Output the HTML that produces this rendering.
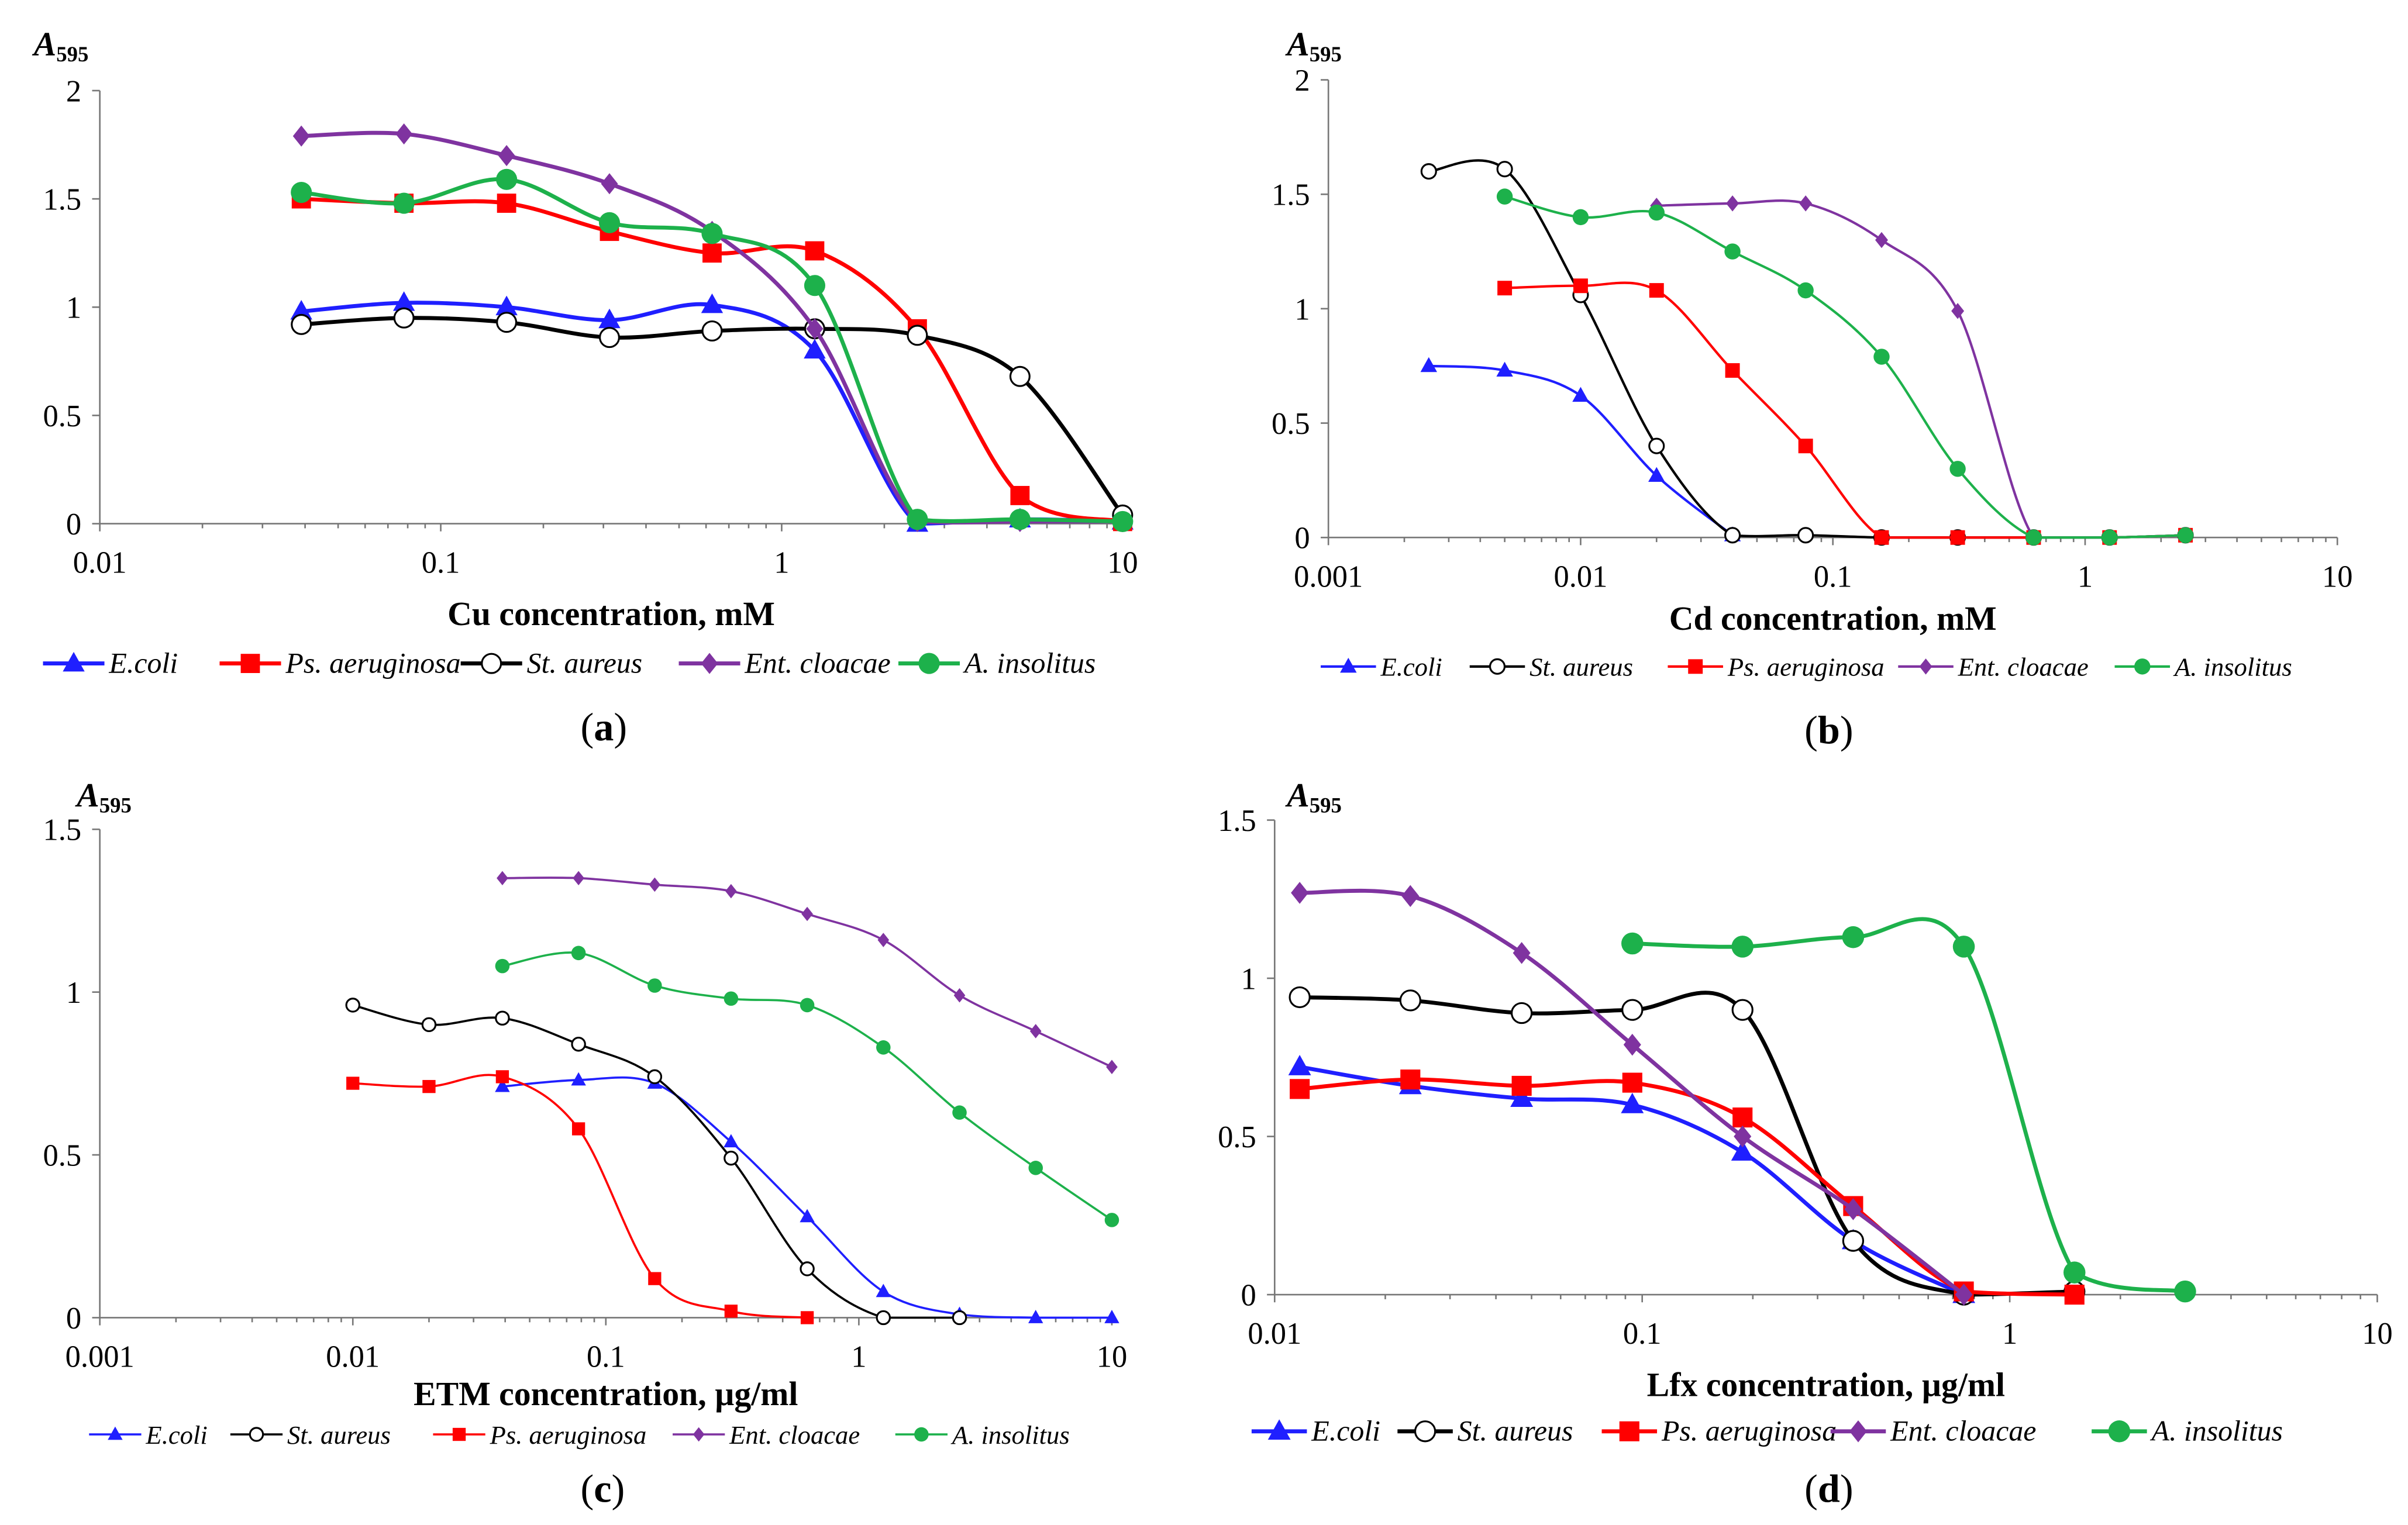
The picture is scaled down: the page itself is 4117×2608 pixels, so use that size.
<!DOCTYPE html>
<html><head><meta charset="utf-8"><style>
html,body{margin:0;padding:0;background:#fff;}
svg{display:block;font-family:"Liberation Serif",serif;}
</style></head><body>
<svg id="chart" width="4117" height="2608" viewBox="0 0 1568 993" preserveAspectRatio="none" xmlns="http://www.w3.org/2000/svg"></svg>
<script>
// ---- data ----
const xA=[0.039,0.078,0.156,0.3125,0.625,1.25,2.5,5,10];
const aEcoli=[0.98,1.02,1.0,0.94,1.01,0.8,0,0.02,0.01];
const aPs=[1.5,1.48,1.48,1.35,1.25,1.26,0.9,0.13,0.01];
const aSt=[0.92,0.95,0.93,0.86,0.89,0.9,0.87,0.68,0.04];
const aEnt=[1.79,1.8,1.7,1.57,1.35,0.9,0.01,0.01,0.01];
const aIns=[1.53,1.48,1.59,1.39,1.34,1.1,0.02,0.02,0.01];

const xB=[0.0025,0.005,0.01,0.02,0.04,0.078,0.156,0.3125,0.625,1.25,2.5];
const bEcoli=[0.75,0.73,0.62,0.27,0.01,null,null,null,null,null,null];
const bSt=[1.6,1.61,1.06,0.4,0.01,0.01,0,0,0,0,0.01];
const bPs=[null,1.09,1.1,1.08,0.73,0.4,0,0,0,0,0.01];
const bEnt=[null,null,null,1.45,1.46,1.46,1.3,0.99,0,0,0.01];
const bIns=[null,1.49,1.4,1.42,1.25,1.08,0.79,0.3,0,0,0.01];

const xC=[0.01,0.02,0.039,0.078,0.156,0.3125,0.625,1.25,2.5,5,10];
const cEcoli=[null,null,0.71,0.73,0.72,0.54,0.31,0.08,0.01,0,0];
const cSt=[0.96,0.9,0.92,0.84,0.74,0.49,0.15,0,0,null,null];
const cPs=[0.72,0.71,0.74,0.58,0.12,0.02,0,null,null,null,null];
const cEnt=[null,null,1.35,1.35,1.33,1.31,1.24,1.16,0.99,0.88,0.77];
const cIns=[null,null,1.08,1.12,1.02,0.98,0.96,0.83,0.63,0.46,0.3];

const xD=[0.0117,0.0234,0.047,0.094,0.1875,0.375,0.75,1.5,3];
const dEcoli=[0.72,0.66,0.62,0.6,0.45,0.17,0,null,null];
const dSt=[0.94,0.93,0.89,0.9,0.9,0.17,0,0.01,null];
const dPs=[0.65,0.68,0.66,0.67,0.56,0.28,0.01,0,null];
const dEnt=[1.27,1.26,1.08,0.79,0.5,0.27,0,null,null];
const dIns=[null,null,null,1.11,1.1,1.13,1.1,0.07,0.01];

const yTicksAB=["0","0.5","1","1.5","2"];
const yTicksCD=["0","0.5","1","1.5"];

const NS="http://www.w3.org/2000/svg";
const svg=document.getElementById('chart');
function el(tag,attrs,parent,text){const e=document.createElementNS(NS,tag);for(const k in attrs)e.setAttribute(k,attrs[k]);if(text!==undefined)e.textContent=text;(parent||svg).appendChild(e);return e;}

const COL={ecoli:'#1f1fff',ps:'#ff0000',st:'#000000',ent:'#7f33a0',ins:'#1db14b'};
const NAMES={ecoli:'E.coli',ps:'Ps. aeruginosa',st:'St. aureus',ent:'Ent. cloacae',ins:'A. insolitus'};

const panels=[
 {id:'a',x0:65,x1:731,d0:-2,d1:1,y0:341,yTop:59,yMax:2,ticks:yTicksAB,xt:['0.01','0.1','1','10'],xs:xA,
  series:[['ecoli',aEcoli],['ps',aPs],['st',aSt],['ent',aEnt],['ins',aIns]],order:['ecoli','ps','st','ent','ins'],
  lw:2.6,ms:1.25,title:'Cu concentration, mM',titleY:407,legY:432,legX:[28,143,300,442,585],legLen:40,fs:19,label:'(a)',labX:378,labY:482,a595:[22,36]},
 {id:'b',x0:865,x1:1522,d0:-3,d1:1,y0:350,yTop:52,yMax:2,ticks:yTicksAB,xt:['0.001','0.01','0.1','1','10'],xs:xB,
  series:[['ecoli',bEcoli],['st',bSt],['ps',bPs],['ent',bEnt],['ins',bIns]],order:['ecoli','st','ps','ent','ins'],
  lw:1.6,ms:0.95,title:'Cd concentration, mM',titleY:410,legY:434,legX:[860,957,1086,1236,1377],legLen:36,fs:17,label:'(b)',labX:1175,labY:484,a595:[838,36]},
 {id:'c',x0:65,x1:724,d0:-3,d1:1,y0:858,yTop:540,yMax:1.5,ticks:yTicksCD,xt:['0.001','0.01','0.1','1','10'],xs:xC,
  series:[['ecoli',cEcoli],['st',cSt],['ps',cPs],['ent',cEnt],['ins',cIns]],order:['ecoli','st','ps','ent','ins'],
  lw:1.4,ms:0.85,title:'ETM concentration, µg/ml',titleY:915,legY:934,legX:[58,150,282,438,583],legLen:34,fs:17,label:'(c)',labX:378,labY:978,a595:[50,525]},
 {id:'d',x0:830,x1:1548,d0:-2,d1:1,y0:843,yTop:534,yMax:1.5,ticks:yTicksCD,xt:['0.01','0.1','1','10'],xs:xD,
  series:[['ecoli',dEcoli],['st',dSt],['ps',dPs],['ent',dEnt],['ins',dIns]],order:['ecoli','st','ps','ent','ins'],
  lw:2.6,ms:1.3,title:'Lfx concentration, µg/ml',titleY:909,legY:932,legX:[815,910,1043,1192,1362],legLen:36,fs:19,label:'(d)',labX:1175,labY:978,a595:[838,525]}
];

function marker(g,kind,x,y,s){
 const c=COL[kind];let m;
 if(kind==='ecoli'){const r=6*s;m=el('polygon',{points:`${x},${y-r} ${x+r*0.95},${y+r*0.7} ${x-r*0.95},${y+r*0.7}`,fill:c},g);}
 else if(kind==='ps'){const r=5*s;m=el('rect',{x:x-r,y:y-r,width:2*r,height:2*r,fill:c},g);}
 else if(kind==='st'){m=el('circle',{cx:x,cy:y,r:5*s,fill:'#fff',stroke:'#000','stroke-width':1.2},g);}
 else if(kind==='ent'){const r=5.5*s;m=el('polygon',{points:`${x},${y-r} ${x+r*0.8},${y} ${x},${y+r} ${x-r*0.8},${y}`,fill:c},g);}
 else {m=el('circle',{cx:x,cy:y,r:5.5*s,fill:c},g);}
 return m;
}
function smoothPath(pts,yMaxPix){
 if(pts.length<2)return '';
 let d=`M${pts[0][0]},${pts[0][1]}`;
 for(let i=0;i<pts.length-1;i++){
  const p0=pts[i-1]||pts[i],p1=pts[i],p2=pts[i+1],p3=pts[i+2]||p2;
  const t=0.5/3;
  const c1=[p1[0]+(p2[0]-p0[0])*t,Math.min(yMaxPix,p1[1]+(p2[1]-p0[1])*t)];
  const c2=[p2[0]-(p3[0]-p1[0])*t,Math.min(yMaxPix,p2[1]-(p3[1]-p1[1])*t)];
  d+=` C${c1[0]},${c1[1]} ${c2[0]},${c2[1]} ${p2[0]},${p2[1]}`;
 }
 return d;
}

panels.forEach(p=>{
 const g=el('g',{});
 
 
 const sx=v=>p.x0+(Math.log10(v)-p.d0)/(p.d1-p.d0)*(p.x1-p.x0);
 const sy=v=>p.y0-v/p.yMax*(p.y0-p.yTop);
 const ax=el('line',{x1:p.x0,y1:p.y0,x2:p.x1,y2:p.y0,stroke:'#777','stroke-width':1},g);
 
 const ay=el('line',{x1:p.x0,y1:p.y0,x2:p.x0,y2:p.yTop,stroke:'#777','stroke-width':1},g);
 
 p.ticks.forEach((t,i)=>{
  const v=i*0.5,y=sy(v);
  el('line',{x1:p.x0-5,y1:y,x2:p.x0,y2:y,stroke:'#777'},g);
  const tx=el('text',{x:p.x0-12,y:y+7,'text-anchor':'end','font-size':20},g,t);
  
 });
 for(let d=p.d0;d<=p.d1;d++){
  const x=p.x0+(d-p.d0)/(p.d1-p.d0)*(p.x1-p.x0);
  el('line',{x1:x,y1:p.y0,x2:x,y2:p.y0+5,stroke:'#777'},g);
  if(d<p.d1)for(let k=2;k<10;k++){const xx=sx(Math.pow(10,d)*k);el('line',{x1:xx,y1:p.y0,x2:xx,y2:p.y0+3,stroke:'#777'},g);}
  const tx=el('text',{x:x,y:p.y0+32,'text-anchor':'middle','font-size':20},g,p.xt[d-p.d0]);
  
 }
 const a=el('text',{x:p.a595[0],y:p.a595[1],'font-size':22,'font-weight':'bold','font-style':'italic'},g);
 
 a.innerHTML='A<tspan font-size="14" font-style="normal" dy="4">595</tspan>';
 const tt=el('text',{x:(p.x0+p.x1)/2,y:p.titleY,'text-anchor':'middle','font-size':22,'font-weight':'bold'},g,p.title);
 
 p.series.forEach(([k,vals])=>{
  const sg=el('g',{},g);
  
  const pts=[];vals.forEach((v,i)=>{if(v!==null)pts.push([sx(p.xs[i]),sy(v)]);});
  const path=el('path',{d:smoothPath(pts,p.y0),fill:'none',stroke:COL[k],'stroke-width':p.lw},sg);
  
  pts.forEach(pt=>{const m=marker(sg,k,pt[0],pt[1],p.ms);
   });
 });
 p.order.forEach((k,i)=>{
  const lg=el('g',{},g);
  
  const x=p.legX[i],y=p.legY;
  el('line',{x1:x,y1:y,x2:x+p.legLen,y2:y,stroke:COL[k],'stroke-width':p.lw},lg);
  marker(lg,k,x+p.legLen/2,y,p.ms);
  el('text',{x:x+p.legLen+3,y:y+6,'font-size':p.fs,'font-style':'italic'},lg,NAMES[k]);
 });
 const lb=el('text',{x:p.labX,y:p.labY,'font-size':26},g);
 
 lb.innerHTML='(<tspan font-weight="bold">'+p.id+'</tspan>)';
});
</script>
</body></html>
